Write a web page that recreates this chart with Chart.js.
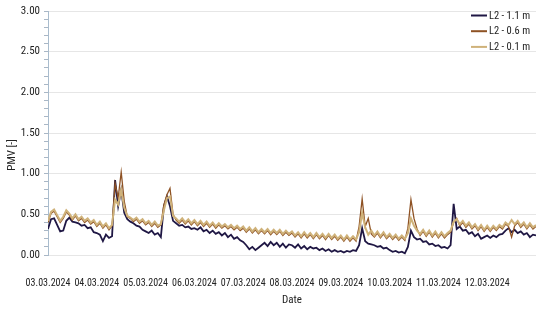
<!DOCTYPE html>
<html>
<head>
<meta charset="utf-8">
<script src="https://cdn.jsdelivr.net/npm/chart.js@4.4.1/dist/chart.umd.min.js"></script>
<style>
html, body { margin: 0; padding: 0; background: #fff; }
#wrap { width: 550px; height: 311px; }
</style>
</head>
<body>
<div id="wrap"><canvas id="pmv_chart" width="550" height="311"></canvas></div>
<script>
var FONT = "'Roboto Condensed', 'Liberation Sans', sans-serif";

// x tick labels, one per day
var dayLabels = ['03.03.2024', '04.03.2024', '05.03.2024', '06.03.2024', '07.03.2024',
                 '08.03.2024', '09.03.2024', '10.03.2024', '11.03.2024', '12.03.2024'];
// y tick labels (every 0.5), minor marks every 0.1
var yLabels = ['0.00', '0.50', '1.00', '1.50', '2.00', '2.50', '3.00'];
var seriesNames = ['L2 - 1.1 m', 'L2 - 0.6 m', 'L2 - 0.1 m'];

// one value every 1.5 h, 16 per day, from 03.03 00:00
var stepDays = 1.5 / 24;

var l2_11 = [
  0.32, 0.44, 0.45, 0.37, 0.29, 0.30, 0.42, 0.46, 0.41, 0.40, 0.39, 0.36, 0.37, 0.33, 0.34, 0.28, // 03.03
  0.27, 0.25, 0.17, 0.25, 0.21, 0.23, 0.92, 0.60, 0.80, 0.52, 0.44, 0.41, 0.39, 0.36, 0.35, 0.31, // 04.03
  0.29, 0.27, 0.30, 0.25, 0.27, 0.22, 0.60, 0.72, 0.60, 0.42, 0.39, 0.36, 0.37, 0.34, 0.35, 0.32, // 05.03
  0.33, 0.31, 0.34, 0.29, 0.31, 0.27, 0.30, 0.26, 0.28, 0.24, 0.27, 0.22, 0.25, 0.20, 0.22, 0.18, // 06.03
  0.16, 0.12, 0.07, 0.10, 0.06, 0.09, 0.12, 0.15, 0.11, 0.16, 0.12, 0.15, 0.10, 0.14, 0.09, 0.13, // 07.03
  0.12, 0.09, 0.13, 0.08, 0.11, 0.07, 0.10, 0.08, 0.09, 0.06, 0.08, 0.05, 0.07, 0.04, 0.06, 0.04, // 08.03
  0.05, 0.03, 0.05, 0.04, 0.06, 0.05, 0.12, 0.33, 0.17, 0.14, 0.13, 0.12, 0.10, 0.11, 0.08, 0.09, // 09.03
  0.06, 0.04, 0.05, 0.03, 0.04, 0.02, 0.10, 0.30, 0.22, 0.19, 0.20, 0.16, 0.17, 0.13, 0.14, 0.11, // 10.03
  0.12, 0.09, 0.10, 0.08, 0.12, 0.63, 0.32, 0.35, 0.30, 0.31, 0.26, 0.28, 0.23, 0.26, 0.20, 0.22, // 11.03
  0.24, 0.21, 0.24, 0.22, 0.25, 0.26, 0.30, 0.33, 0.28, 0.31, 0.27, 0.29, 0.25, 0.27, 0.22, 0.25, 0.24 // 12.03
];

var l2_06 = [
  0.40, 0.51, 0.54, 0.47, 0.40, 0.45, 0.53, 0.49, 0.43, 0.48, 0.42, 0.45, 0.40, 0.43, 0.38, 0.41,
  0.35, 0.39, 0.33, 0.37, 0.31, 0.36, 0.88, 0.70, 1.02, 0.66, 0.47, 0.45, 0.41, 0.44, 0.39, 0.42,
  0.37, 0.40, 0.35, 0.39, 0.34, 0.37, 0.62, 0.74, 0.82, 0.50, 0.43, 0.39, 0.43, 0.38, 0.42, 0.37,
  0.41, 0.36, 0.40, 0.35, 0.39, 0.34, 0.38, 0.33, 0.37, 0.33, 0.36, 0.32, 0.35, 0.31, 0.34, 0.30,
  0.33, 0.28, 0.32, 0.27, 0.31, 0.26, 0.30, 0.26, 0.30, 0.25, 0.29, 0.25, 0.29, 0.24, 0.28, 0.24,
  0.27, 0.22, 0.26, 0.21, 0.26, 0.21, 0.25, 0.20, 0.25, 0.20, 0.24, 0.19, 0.24, 0.19, 0.23, 0.18,
  0.22, 0.17, 0.22, 0.17, 0.21, 0.17, 0.35, 0.69, 0.35, 0.45, 0.26, 0.22, 0.27, 0.21, 0.26, 0.20,
  0.24, 0.19, 0.23, 0.18, 0.22, 0.18, 0.33, 0.68, 0.45, 0.32, 0.24, 0.29, 0.23, 0.28, 0.22, 0.27,
  0.21, 0.26, 0.21, 0.25, 0.28, 0.40, 0.45, 0.36, 0.40, 0.34, 0.38, 0.32, 0.36, 0.30, 0.35, 0.29,
  0.34, 0.29, 0.34, 0.30, 0.35, 0.32, 0.38, 0.35, 0.22, 0.36, 0.40, 0.34, 0.38, 0.32, 0.37, 0.32, 0.35
];

var l2_01 = [
  0.42, 0.53, 0.56, 0.49, 0.42, 0.47, 0.55, 0.51, 0.45, 0.50, 0.44, 0.47, 0.42, 0.45, 0.40, 0.43,
  0.37, 0.41, 0.35, 0.39, 0.33, 0.37, 0.68, 0.62, 0.80, 0.58, 0.48, 0.46, 0.43, 0.46, 0.41, 0.44,
  0.39, 0.42, 0.37, 0.41, 0.36, 0.38, 0.55, 0.70, 0.72, 0.48, 0.45, 0.41, 0.45, 0.40, 0.44, 0.39,
  0.43, 0.38, 0.42, 0.37, 0.41, 0.36, 0.40, 0.35, 0.39, 0.35, 0.38, 0.34, 0.37, 0.33, 0.36, 0.32,
  0.35, 0.30, 0.34, 0.29, 0.33, 0.28, 0.32, 0.28, 0.32, 0.27, 0.31, 0.27, 0.31, 0.26, 0.30, 0.26,
  0.29, 0.24, 0.28, 0.23, 0.28, 0.23, 0.27, 0.22, 0.27, 0.22, 0.26, 0.21, 0.26, 0.21, 0.25, 0.20,
  0.24, 0.19, 0.24, 0.19, 0.23, 0.19, 0.28, 0.52, 0.34, 0.25, 0.30, 0.24, 0.29, 0.23, 0.28, 0.22,
  0.26, 0.21, 0.25, 0.20, 0.24, 0.20, 0.27, 0.45, 0.36, 0.30, 0.26, 0.31, 0.25, 0.30, 0.24, 0.29,
  0.23, 0.28, 0.23, 0.27, 0.30, 0.41, 0.44, 0.38, 0.42, 0.36, 0.40, 0.34, 0.38, 0.32, 0.37, 0.31,
  0.36, 0.31, 0.36, 0.32, 0.37, 0.34, 0.40, 0.37, 0.43, 0.38, 0.42, 0.36, 0.40, 0.34, 0.39, 0.34, 0.37
];

function toPoints(arr) {
  return arr.map(function (v, i) { return { x: i * stepDays, y: v }; });
}

function isMajor(v) {
  return Math.abs(v * 2 - Math.round(v * 2)) < 1e-6;
}

// minor tick positions 0.0 .. 3.0
var yTickValues = [];
for (var k = 0; k <= 30; k++) yTickValues.push(k / 10);

// legend + rotated y title drawn on top
var overlay = {
  id: 'overlay',
  afterDraw: function (chart) {
    var ctx = chart.ctx;
    ctx.save();
    ctx.fillStyle = '#222';
    ctx.textBaseline = 'middle';

    ctx.save();
    ctx.font = '11px ' + FONT;
    ctx.translate(12, 155);
    ctx.rotate(-Math.PI / 2);
    ctx.textAlign = 'center';
    ctx.fillText('PMV [-]', 0, 0);
    ctx.restore();

    ctx.font = '10.5px ' + FONT;
    chart.data.datasets.forEach(function (ds, i) {
      var y = 15.5 + i * 15.7;
      ctx.strokeStyle = ds.borderColor;
      ctx.lineWidth = 2;
      ctx.beginPath();
      ctx.moveTo(471, y);
      ctx.lineTo(487, y);
      ctx.stroke();
      ctx.textAlign = 'left';
      ctx.fillText(ds.label, 489, y + 0.5);
    });
    ctx.restore();
  }
};

var ctx = document.getElementById('pmv_chart').getContext('2d');
var chart = new Chart(ctx, {
  type: 'line',
  data: {
    datasets: [{
      label: seriesNames[0],
      data: toPoints(l2_11),
      borderColor: '#1f1744',
      borderWidth: 1.8,
      order: 3
    }, {
      label: seriesNames[1],
      data: toPoints(l2_06),
      borderColor: '#8e5224',
      borderWidth: 1.3,
      order: 2
    }, {
      label: seriesNames[2],
      data: toPoints(l2_01),
      borderColor: '#cfb27a',
      borderWidth: 2,
      order: 1
    }]
  },
  options: {
    responsive: false,
    animation: false,
    devicePixelRatio: 1,
    layout: { padding: { top: 11, right: 4, left: 0, bottom: 0 } },
    elements: {
      point: { radius: 0 },
      line: { tension: 0 }
    },
    plugins: {
      legend: { display: false },
      tooltip: { enabled: false }
    },
    scales: {
      x: {
        type: 'linear',
        min: 0,
        max: 10,
        afterFit: function (s) { s.height = 56; },
        ticks: {
          stepSize: 1,
          autoSkip: false,
          maxRotation: 0,
          padding: 14,
          color: '#222',
          font: { family: FONT, size: 10 },
          callback: function (v) { return dayLabels[v] || ''; }
        },
        grid: { display: false },
        border: { display: false },
        title: {
          display: true,
          text: 'Date',
          color: '#222',
          font: { family: FONT, size: 11 },
          padding: { top: 0, bottom: 4 }
        }
      },
      y: {
        min: 0,
        max: 3,
        afterFit: function (s) { s.width = 48; },
        afterBuildTicks: function (s) {
          s.ticks = yTickValues.map(function (v) { return { value: v }; });
        },
        ticks: {
          autoSkip: false,
          padding: 4,
          color: '#222',
          font: { family: FONT, size: 11 },
          callback: function (v) {
            return isMajor(v) ? yLabels[Math.round(v * 2)] : '';
          }
        },
        grid: {
          color: function (c) { return isMajor(c.tick.value) ? '#e6e6e6' : 'rgba(0,0,0,0)'; },
          tickColor: '#a9b7c6',
          tickLength: 4,
          drawTicks: true
        },
        border: { display: true, color: '#a9bccd', width: 1 }
      }
    }
  },
  plugins: [overlay]
});
</script>
</body>
</html>
